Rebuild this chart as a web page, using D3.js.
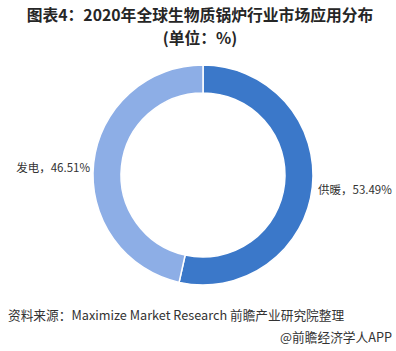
<!DOCTYPE html>
<html>
<head>
<meta charset="utf-8">
<script src="https://cdn.jsdelivr.net/npm/d3@7"></script>
<style>
  html, body { margin: 0; padding: 0; background: #fff; }
  svg { display: block; font-family: "Noto Sans CJK SC", "Noto Sans", sans-serif; }
</style>
</head>
<body>
<div id="chart"></div>
<script>
const width = 396;
const height = 351;

const categories = ["供暖", "发电"];
const values = [53.49, 46.51];
const colors = ["#3b78c9", "#8daee6"];

const titleLines = ["图表4：2020年全球生物质锅炉行业市场应用分布", "(单位：%)"];
const sourceText = "资料来源：Maximize Market Research 前瞻产业研究院整理";
const creditText = "@前瞻经济学人APP";

const svg = d3.select("#chart")
  .append("svg")
  .attr("width", width)
  .attr("height", height);

svg.append("g")
  .selectAll("text")
  .data(titleLines)
  .join("text")
  .attr("x", 200)
  .attr("y", (d, i) => 21 + i * 23)
  .attr("text-anchor", "middle")
  .attr("font-size", 15.8)
  .attr("font-weight", "bold")
  .attr("fill", "#262626")
  .text(d => d);

const cx = 203, cy = 175;
const outerR = 110, innerR = 82;

const pie = d3.pie().sort(null).value(d => d.value);
const arc = d3.arc().innerRadius(innerR).outerRadius(outerR);
const pieData = pie(categories.map((c, i) => ({ name: c, value: values[i], color: colors[i] })));

const donut = svg.append("g").attr("transform", `translate(${cx},${cy})`);
donut.selectAll("path")
  .data(pieData)
  .join("path")
  .attr("d", arc)
  .attr("fill", d => d.data.color)
  .attr("stroke", "#fff")
  .attr("stroke-width", 1.5);

// labels placed outside the ring, on the left or right side
donut.selectAll("text")
  .data(pieData)
  .join("text")
  .attr("x", d => {
    const mid = (d.startAngle + d.endAngle) / 2;
    return Math.sin(mid) > 0 ? outerR + 5 : -outerR - 3;
  })
  .attr("y", d => {
    const mid = (d.startAngle + d.endAngle) / 2;
    return Math.sin(mid) > 0 ? 19 : -3;
  })
  .attr("text-anchor", d => Math.sin((d.startAngle + d.endAngle) / 2) > 0 ? "start" : "end")
  .attr("font-size", 11.5)
  .attr("fill", "#333")
  .text(d => `${d.data.name}，${d.data.value.toFixed(2)}%`);

svg.append("text")
  .attr("x", 8)
  .attr("y", 320)
  .attr("font-size", 12.7)
  .attr("fill", "#333")
  .text(sourceText);

svg.append("text")
  .attr("x", 392)
  .attr("y", 342)
  .attr("text-anchor", "end")
  .attr("font-size", 12.7)
  .attr("fill", "#333")
  .text(creditText);
</script>
</body>
</html>
